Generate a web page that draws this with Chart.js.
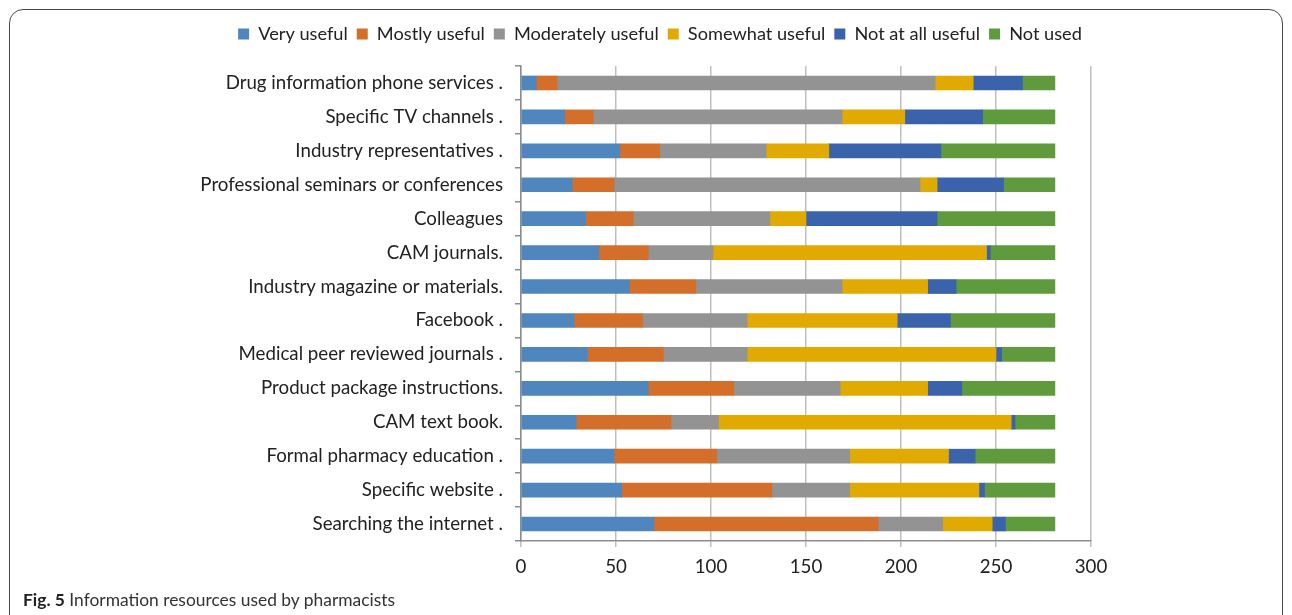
<!DOCTYPE html>
<html>
<head>
<meta charset="utf-8">
<script src="https://cdn.jsdelivr.net/npm/chart.js@4.4.1/dist/chart.umd.min.js"></script>
<style>
  html, body { margin: 0; padding: 0; background: #fff; overflow: hidden; }
  #wrap { position: relative; width: 1292px; height: 615px; }
  #frame { position: absolute; left: 9px; top: 9px; width: 1274px; height: 700px;
           border: 1.5px solid #4a4a4a; border-radius: 14px; box-sizing: border-box; }
  #c { position: absolute; left: 0; top: 0; }
  #cap { position: absolute; left: 23px; top: 589px; font-family: Lato, "Open Sans", sans-serif;
         font-size: 17.4px; color: #333; white-space: nowrap; }
  #cap b { font-weight: 700; color: #222; }
</style>
</head>
<body>
<div id="wrap">
  <div id="frame"></div>
  <canvas id="c" width="1292" height="615"></canvas>
  <div id="cap"><b>Fig. 5</b> Information resources used by pharmacists</div>
</div>
<script>
const categories = [
  "Drug information phone services .",
  "Specific TV channels .",
  "Industry representatives .",
  "Professional seminars or conferences",
  "Colleagues",
  "CAM journals.",
  "Industry magazine or materials.",
  "Facebook .",
  "Medical peer reviewed journals .",
  "Product package instructions.",
  "CAM text book.",
  "Formal pharmacy education .",
  "Specific website .",
  "Searching the internet ."
];
const seriesNames = ["Very useful", "Mostly useful", "Moderately useful", "Somewhat useful", "Not at all useful", "Not used"];
const veryUseful       = [8, 23, 52, 27, 34, 41, 57, 28, 35, 67, 29, 49, 53, 70];
const mostlyUseful     = [11, 15, 21, 22, 25, 26, 35, 36, 40, 45, 50, 54, 79, 118];
const moderatelyUseful = [199, 131, 56, 161, 72, 34, 77, 55, 44, 56, 25, 70, 41, 34];
const somewhatUseful   = [20, 33, 33, 9, 19, 144, 45, 79, 131, 46, 154, 52, 68, 26];
const notAtAllUseful   = [26, 41, 59, 35, 69, 2, 15, 28, 3, 18, 2, 14, 3, 7];
const notUsed          = [17, 38, 60, 27, 62, 34, 52, 55, 28, 49, 21, 42, 37, 26];
const xTicks = [0, 50, 100, 150, 200, 250, 300];

const colors = ["#4F86BD", "#D46E2B", "#939393", "#E1AA00", "#3B63AC", "#5F9A3C"];
const seriesValues = [veryUseful, mostlyUseful, moderatelyUseful, somewhatUseful, notAtAllUseful, notUsed];

const FONT = "Lato, 'Open Sans', sans-serif";
const FS = 18.7;

const legendPlace = {
  id: 'legendPlace',
  beforeInit(chart) {
    const origFit = chart.legend.fit;
    chart.legend.fit = function () {
      origFit.bind(chart.legend)();
      this.height = 50;
    };
  },
  afterLayout(chart) {
    const lg = chart.legend;
    // centre the legend on x = 660 (as in the reference figure)
    const w = lg.right - lg.left;
    lg.left = 660 - w / 2;
    lg.right = 660 + w / 2;
  }
};

new Chart(document.getElementById('c'), {
  type: 'bar',
  data: {
    labels: categories,
    datasets: seriesNames.map((n, i) => ({
      label: n,
      data: seriesValues[i],
      backgroundColor: colors[i],
      borderWidth: 0,
      barThickness: 14
    }))
  },
  options: {
    indexAxis: 'y',
    responsive: false,
    animation: false,
    layout: { padding: { left: 10, right: 201, top: 16, bottom: 40 } },
    plugins: {
      legend: {
        position: 'top',
        labels: {
          boxWidth: 11, boxHeight: 11, padding: 9,
          color: '#222',
          font: { family: FONT, size: 18.2 }
        }
      },
      tooltip: { enabled: false }
    },
    scales: {
      x: {
        stacked: true,
        min: 0, max: 300,
        afterBuildTicks(scale) { scale.ticks = xTicks.map(v => ({ value: v })); },
        afterFit(scale) { scale.height = 34; },
        grid: { color: '#BFBFBF', lineWidth: 1.5, tickLength: 6, drawTicks: true },
        border: { color: '#8C8C8C', width: 1.5 },
        ticks: { color: '#222', padding: 9, font: { family: FONT, size: FS } }
      },
      y: {
        stacked: true,
        afterFit(scale) { scale.width = 511; },
        grid: { drawOnChartArea: false, tickLength: 6, color: '#8C8C8C', lineWidth: 1.5, offset: true },
        border: { color: '#8C8C8C', width: 1.5 },
        ticks: { color: '#222', padding: 12, font: { family: FONT, size: FS } }
      }
    }
  },
  plugins: [legendPlace]
});
</script>
</body>
</html>
